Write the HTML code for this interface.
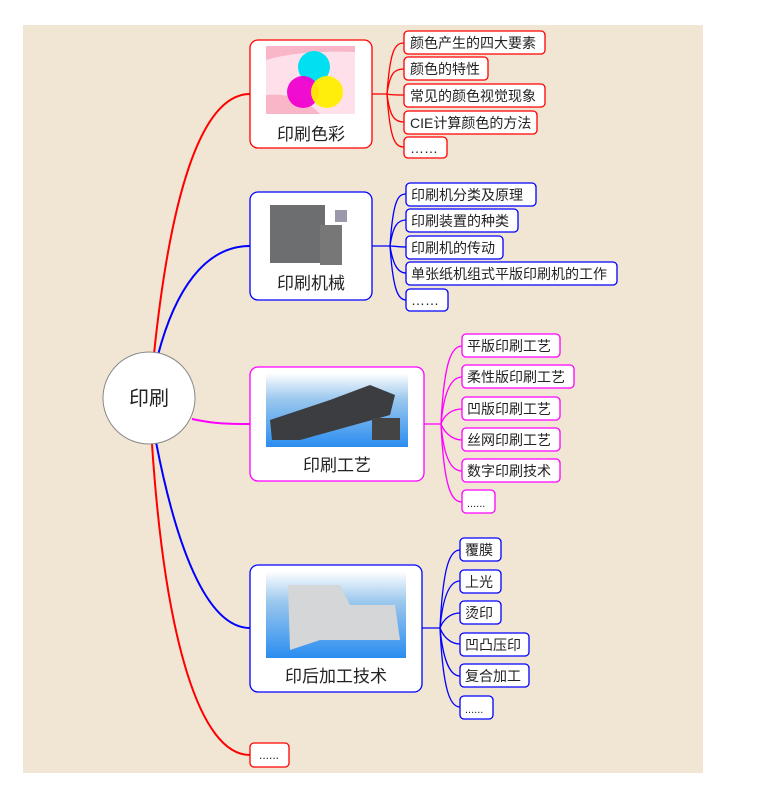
<!DOCTYPE html>
<html><head><meta charset="utf-8"><style>
body{margin:0;background:#fff;}
svg text{font-family:"Liberation Sans","Noto Sans CJK SC",sans-serif;fill:#222;}
</style></head><body>
<svg width="775" height="788" viewBox="0 0 775 788" xmlns="http://www.w3.org/2000/svg">
<defs>
<linearGradient id="sky" x1="0" y1="0" x2="0" y2="1"><stop offset="0" stop-color="#ffffff"/><stop offset="0.35" stop-color="#9cc8ee"/><stop offset="1" stop-color="#2a8df0"/></linearGradient>
</defs>
<rect x="23" y="25" width="680" height="748" fill="#f1e5d3"/>
<g fill="none" stroke-width="2">
<path d="M154 354 C170 200 200 94 250 94" stroke="#f00"/>
<path d="M158 355 C175 290 205 246 250 246" stroke="#00f"/>
<path d="M192 419 C215 424 230 424 250 424" stroke="#f0f"/>
<path d="M156 442 C175 540 205 628 250 628" stroke="#00f"/>
<path d="M152 444 C165 640 200 755 250 755" stroke="#f00"/>
</g>
<g fill="none" stroke-width="1.3">
<g stroke="#f00"><path d="M372 94 H387"/>
<path d="M387 94 C390 50 395 43 404 43"/><path d="M387 94 C390 72 395 69 404 69"/><path d="M387 94 C390 95 395 95 404 95"/><path d="M387 94 C390 118 395 122 404 122"/><path d="M387 94 C390 140 395 147 404 147"/></g>
<g stroke="#00f"><path d="M372 246 H390"/>
<path d="M390 246 C393 200 398 194 406 194"/><path d="M390 246 C393 225 398 220 406 220"/><path d="M390 246 C393 246 398 247 406 247"/><path d="M390 246 C393 265 398 273 406 273"/><path d="M390 246 C393 290 398 300 406 300"/></g>
<g stroke="#f0f"><path d="M424 424 H441"/>
<path d="M441 424 C444 360 452 346 462 346"/><path d="M441 424 C444 390 452 377 462 377"/><path d="M441 424 C444 415 452 409 462 409"/><path d="M441 424 C444 432 452 440 462 440"/><path d="M441 424 C444 460 452 471 462 471"/><path d="M441 424 C444 490 452 502 462 502"/></g>
<g stroke="#00f"><path d="M422 628 H440"/>
<path d="M440 628 C443 565 450 550 460 550"/><path d="M440 628 C443 595 450 581 460 581"/><path d="M440 628 C443 620 450 613 460 613"/><path d="M440 628 C443 636 450 644 460 644"/><path d="M440 628 C443 660 450 676 460 676"/><path d="M440 628 C443 690 450 707 460 707"/></g>
</g>
<circle cx="149" cy="398" r="46" fill="#fff" stroke="#888" stroke-width="1"/>
<text x="149" y="405" font-size="20" text-anchor="middle">印刷</text>
<rect x="250" y="40" width="122" height="108" rx="8" fill="#fff" stroke="#f00" stroke-width="1.3"/>
<rect x="266" y="46" width="89" height="68" fill="#fde0ea"/>
<path d="M266 60 Q300 50 355 52 V46 H266Z" fill="#f8b6c8"/>
<path d="M266 95 Q300 92 320 114 H266Z" fill="#f8b6c8"/>
<circle cx="314" cy="67" r="16" fill="#00e0f0"/><circle cx="303" cy="92" r="16" fill="#f000d0" opacity="0.95"/><circle cx="327" cy="92" r="16" fill="#ffee00" opacity="0.95"/>
<text x="311" y="140" font-size="17" text-anchor="middle">印刷色彩</text>
<rect x="250" y="192" width="122" height="108" rx="8" fill="#fff" stroke="#00f" stroke-width="1.3"/>
<rect x="270" y="205" width="55" height="58" fill="#6c6e70"/><rect x="320" y="225" width="22" height="40" fill="#777"/><rect x="335" y="210" width="12" height="12" fill="#99a"/>
<text x="311" y="289" font-size="17" text-anchor="middle">印刷机械</text>
<rect x="250" y="367" width="174" height="114" rx="8" fill="#fff" stroke="#f0f" stroke-width="1.3"/>
<rect x="266" y="373" width="142" height="74" fill="url(#sky)"/>
<path d="M270 420 L330 400 L370 385 L395 395 L390 415 L300 440 L272 440Z" fill="#3b3d40"/><rect x="372" y="418" width="28" height="22" fill="#444"/>
<text x="337" y="471" font-size="17" text-anchor="middle">印刷工艺</text>
<rect x="250" y="565" width="172" height="127" rx="8" fill="#fff" stroke="#00f" stroke-width="1.3"/>
<rect x="266" y="571" width="140" height="87" fill="url(#sky)"/>
<path d="M288 585 L340 585 L350 605 L395 605 L400 640 L320 640 L290 650Z" fill="#d4d6d8"/>
<text x="336" y="682" font-size="17" text-anchor="middle">印后加工技术</text>
<rect x="250" y="743" width="39" height="24" rx="4" fill="#fff" stroke="#f00" stroke-width="1.3"/>
<text x="269" y="759" font-size="12" text-anchor="middle">......</text>
<g font-size="14">
<g fill="#fff" stroke="#f00" stroke-width="1.3">
<rect x="404" y="31" width="141" height="23" rx="4"/><rect x="404" y="57" width="84" height="23" rx="4"/><rect x="404" y="84" width="141" height="23" rx="4"/><rect x="404" y="111" width="133" height="23" rx="4"/><rect x="404" y="137" width="43" height="21" rx="4"/></g>
<text x="410" y="48">颜色产生的四大要素</text><text x="410" y="74">颜色的特性</text><text x="410" y="101">常见的颜色视觉现象</text><text x="410" y="128">CIE计算颜色的方法</text><text x="410" y="153">……</text>
<g fill="#fff" stroke="#00f" stroke-width="1.3">
<rect x="406" y="183" width="130" height="23" rx="4"/><rect x="406" y="209" width="112" height="23" rx="4"/><rect x="406" y="236" width="97" height="23" rx="4"/><rect x="406" y="262" width="211" height="23" rx="4"/><rect x="406" y="289" width="42" height="22" rx="4"/></g>
<text x="411" y="200">印刷机分类及原理</text><text x="411" y="226">印刷装置的种类</text><text x="411" y="253">印刷机的传动</text><text x="411" y="279">单张纸机组式平版印刷机的工作</text><text x="411" y="305">……</text>
<g fill="#fff" stroke="#f0f" stroke-width="1.3">
<rect x="462" y="334" width="98" height="23" rx="4"/><rect x="462" y="365" width="112" height="23" rx="4"/><rect x="462" y="397" width="98" height="23" rx="4"/><rect x="462" y="428" width="98" height="23" rx="4"/><rect x="462" y="459" width="98" height="23" rx="4"/><rect x="462" y="490" width="33" height="23" rx="4"/></g>
<text x="467" y="351">平版印刷工艺</text><text x="467" y="382">柔性版印刷工艺</text><text x="467" y="414">凹版印刷工艺</text><text x="467" y="445">丝网印刷工艺</text><text x="467" y="476">数字印刷技术</text><text x="467" y="507" font-size="11">......</text>
<g fill="#fff" stroke="#00f" stroke-width="1.3">
<rect x="460" y="538" width="41" height="23" rx="4"/><rect x="460" y="570" width="41" height="23" rx="4"/><rect x="460" y="601" width="41" height="23" rx="4"/><rect x="460" y="633" width="69" height="23" rx="4"/><rect x="460" y="664" width="69" height="23" rx="4"/><rect x="460" y="696" width="33" height="23" rx="4"/></g>
<text x="465" y="555">覆膜</text><text x="465" y="587">上光</text><text x="465" y="618">烫印</text><text x="465" y="650">凹凸压印</text><text x="465" y="681">复合加工</text><text x="465" y="713" font-size="11">......</text>
</g>
</svg>
</body></html>
